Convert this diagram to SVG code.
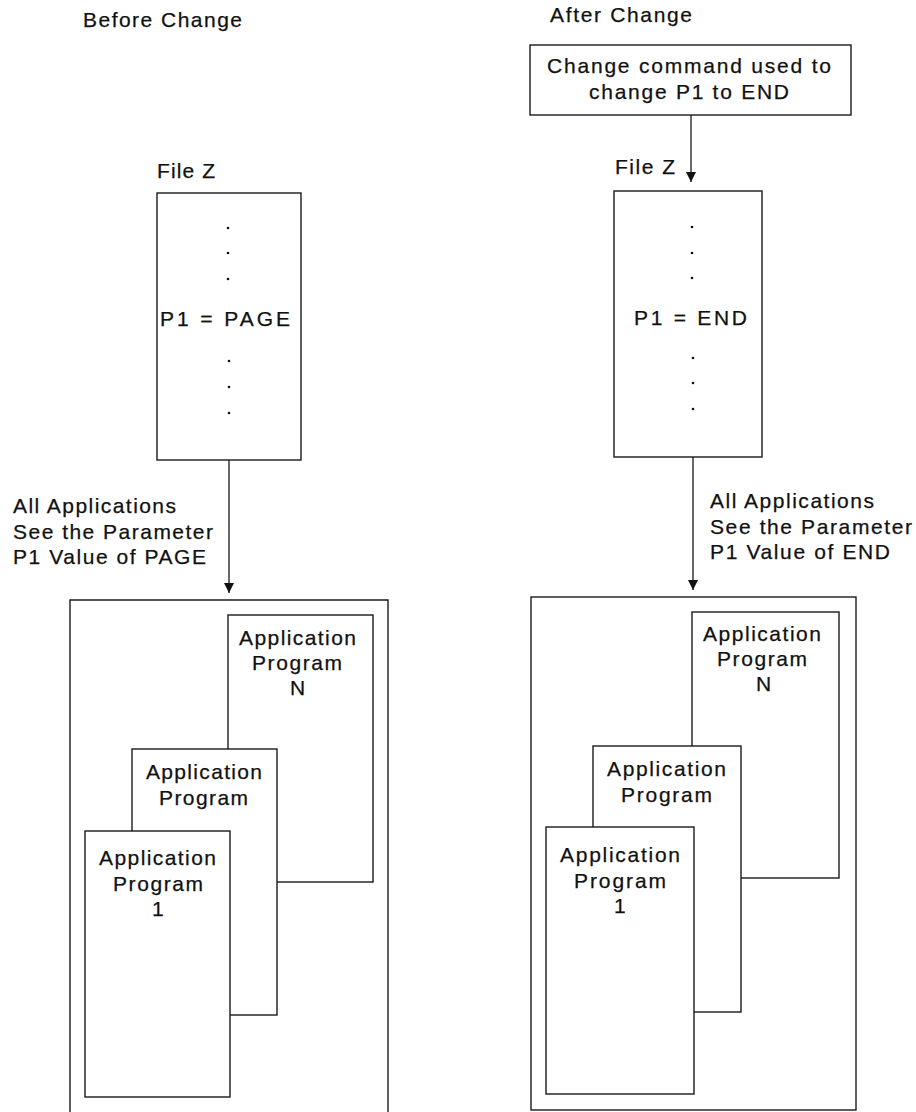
<svg xmlns="http://www.w3.org/2000/svg" width="916" height="1112" viewBox="0 0 916 1112">
<style>
.b{fill:#fff;stroke:#1a1a1a;stroke-width:1.4}
.o{fill:none;stroke:#1a1a1a;stroke-width:1.4}
.t{font-family:"Liberation Sans",Arial,sans-serif;font-size:21px;fill:#111;stroke:#111;stroke-width:0.25}
.c{stroke:#1a1a1a;stroke-width:1.3;fill:none}
.d{fill:#111}
</style>
<defs>
<marker id="ah" viewBox="0 0 10 10" refX="10" refY="5" markerWidth="10" markerHeight="10" markerUnits="userSpaceOnUse" orient="auto">
<path d="M0,0 L10,5 L0,10 Z" fill="#111"/>
</marker>
</defs>
<rect width="916" height="1112" fill="#fff"/>
<g id="titles">
<text class="t" x="83" y="27" textLength="159" lengthAdjust="spacing">Before Change</text>
<text class="t" x="550" y="22" textLength="142" lengthAdjust="spacing">After Change</text>
</g>
<g id="command">
<rect class="b" x="530" y="45" width="321" height="70"/>
<text class="t" x="547" y="73" textLength="284" lengthAdjust="spacing">Change command used to</text>
<text class="t" x="589" y="99" textLength="200" lengthAdjust="spacing">change P1 to END</text>
</g>
<g id="fileZ-before">
<text class="t" x="157" y="178" textLength="58" lengthAdjust="spacing">File Z</text>
<rect class="b" x="157" y="193" width="144" height="267"/>
<circle class="d" cx="228" cy="228" r="1.3"/>
<circle class="d" cx="228" cy="253" r="1.3"/>
<circle class="d" cx="228" cy="279" r="1.3"/>
<text class="t" x="160" y="326" textLength="130" lengthAdjust="spacing">P1 = PAGE</text>
<circle class="d" cx="229" cy="361" r="1.3"/>
<circle class="d" cx="229" cy="387" r="1.3"/>
<circle class="d" cx="229" cy="413" r="1.3"/>
</g>
<g id="fileZ-after">
<text class="t" x="615" y="174" textLength="60" lengthAdjust="spacing">File Z</text>
<rect class="b" x="614" y="191" width="148" height="266"/>
<circle class="d" cx="692" cy="227" r="1.3"/>
<circle class="d" cx="692" cy="253" r="1.3"/>
<circle class="d" cx="692" cy="278" r="1.3"/>
<text class="t" x="634" y="325" textLength="113" lengthAdjust="spacing">P1 = END</text>
<circle class="d" cx="693" cy="358" r="1.3"/>
<circle class="d" cx="693" cy="383" r="1.3"/>
<circle class="d" cx="693" cy="409" r="1.3"/>
</g>
<g id="label-before">
<text class="t" x="13" y="513" textLength="163" lengthAdjust="spacing">All Applications</text>
<text class="t" x="13" y="539" textLength="200" lengthAdjust="spacing">See the Parameter</text>
<text class="t" x="13" y="564" textLength="193" lengthAdjust="spacing">P1 Value of PAGE</text>
</g>
<g id="label-after">
<text class="t" x="710" y="508" textLength="164" lengthAdjust="spacing">All Applications</text>
<text class="t" x="710" y="534" textLength="202" lengthAdjust="spacing">See the Parameter</text>
<text class="t" x="710" y="559" textLength="180" lengthAdjust="spacing">P1 Value of END</text>
</g>
<g id="apps-before">
<path class="o" d="M70,1113 L70,600 L388,600 L388,1113"/>
<g id="appN-before">
<rect class="b" x="228" y="615" width="145" height="267"/>
<text class="t" x="239" y="645" textLength="117" lengthAdjust="spacing">Application</text>
<text class="t" x="252" y="670" textLength="90" lengthAdjust="spacing">Program</text>
<text class="t" x="290" y="695">N</text>
</g>
<g id="app2-before">
<rect class="b" x="132" y="749" width="145" height="266"/>
<text class="t" x="146" y="779" textLength="116" lengthAdjust="spacing">Application</text>
<text class="t" x="159" y="805" textLength="89" lengthAdjust="spacing">Program</text>
</g>
<g id="app1-before">
<rect class="b" x="85" y="831" width="145" height="266"/>
<text class="t" x="99" y="865" textLength="117" lengthAdjust="spacing">Application</text>
<text class="t" x="113" y="891" textLength="90" lengthAdjust="spacing">Program</text>
<text class="t" x="152" y="916">1</text>
</g>
</g>
<g id="apps-after">
<rect class="o" x="531" y="597" width="325" height="513"/>
<g id="appN-after">
<rect class="b" x="692" y="612" width="147" height="266"/>
<text class="t" x="703" y="641" textLength="118" lengthAdjust="spacing">Application</text>
<text class="t" x="717" y="666" textLength="90" lengthAdjust="spacing">Program</text>
<text class="t" x="756" y="691">N</text>
</g>
<g id="app2-after">
<rect class="b" x="593" y="746" width="148" height="266"/>
<text class="t" x="607" y="776" textLength="119" lengthAdjust="spacing">Application</text>
<text class="t" x="621" y="802" textLength="91" lengthAdjust="spacing">Program</text>
</g>
<g id="app1-after">
<rect class="b" x="546" y="827" width="148" height="267"/>
<text class="t" x="560" y="862" textLength="120" lengthAdjust="spacing">Application</text>
<text class="t" x="574" y="888" textLength="92" lengthAdjust="spacing">Program</text>
<text class="t" x="614" y="913">1</text>
</g>
</g>
<g id="connectors">
<line class="c" x1="229" y1="460" x2="229" y2="593" marker-end="url(#ah)"/>
<line class="c" x1="691" y1="115" x2="691" y2="182" marker-end="url(#ah)"/>
<line class="c" x1="693" y1="457" x2="693" y2="590" marker-end="url(#ah)"/>
</g>
</svg>
